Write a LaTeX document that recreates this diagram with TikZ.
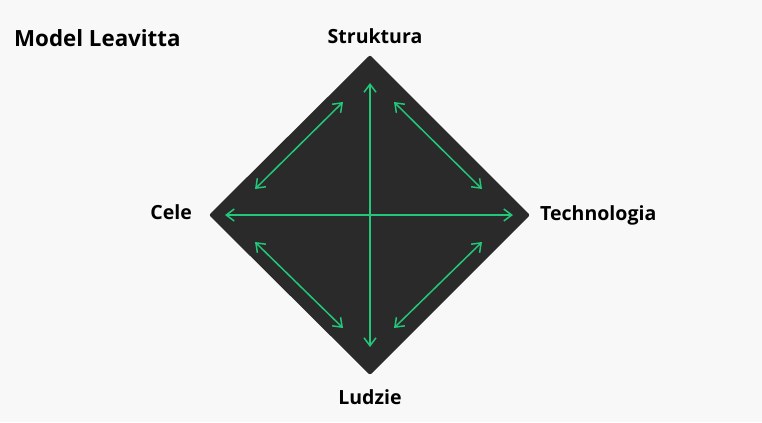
\documentclass[tikz,border=0pt]{standalone}
\usepackage{fontspec}
\setmainfont{Open Sans}
\usetikzlibrary{arrows.meta}
\definecolor{bgc}{HTML}{F8F8F8}
\definecolor{dia}{HTML}{2A2A2A}
\definecolor{grn}{HTML}{22C77A}
\tikzset{
  lbl/.style={font=\bfseries\fontsize{19.6}{23}\selectfont, text=black, inner sep=0pt},
  ttl/.style={font=\bfseries\fontsize{22.4}{26}\selectfont, text=black, inner sep=0pt},
  link/.style={draw=grn, line width=1.5bp, {Straight Barb[length=8bp,width=12bp]}-{Straight Barb[length=8bp,width=12bp]}}
}
\begin{document}
\begin{tikzpicture}[x=1bp,y=-1bp]
\fill[bgc] (0,0) rectangle (762,422);
\useasboundingbox (0,0) rectangle (762,422);
\coordinate (T) at (370,55);
\coordinate (B) at (370,375);
\coordinate (L) at (209,215);
\coordinate (R) at (530,215);
\fill[dia, rounded corners=2bp] (T) -- (R) -- (B) -- (L) -- cycle;
% arrow endpoints
\coordinate (vt) at (370,83);
\coordinate (vb) at (370,347);
\coordinate (hl) at (225,215);
\coordinate (hr) at (513,215);
\coordinate (tl1) at (255,189);
\coordinate (tl2) at (343,102);
\coordinate (tr1) at (394,102);
\coordinate (tr2) at (482,189);
\coordinate (bl1) at (255,242);
\coordinate (bl2) at (343,328);
\coordinate (br1) at (482,242);
\coordinate (br2) at (394,328);
\draw[link] (vt) -- (vb);
\draw[link] (hl) -- (hr);
\draw[link] (tl1) -- (tl2);
\draw[link] (tr1) -- (tr2);
\draw[link] (bl1) -- (bl2);
\draw[link] (br1) -- (br2);
\node[ttl, anchor=base west] (title) at (14,46) {Model Leavitta};
\node[lbl, anchor=base] (struk) at (375,43) {Struktura};
\node[lbl, anchor=base east] (cele) at (192,219) {Cele};
\node[lbl, anchor=base west] (tech) at (540,220) {Technologia};
\node[lbl, anchor=base] (ludzie) at (370,404) {Ludzie};
\end{tikzpicture}
\end{document}
